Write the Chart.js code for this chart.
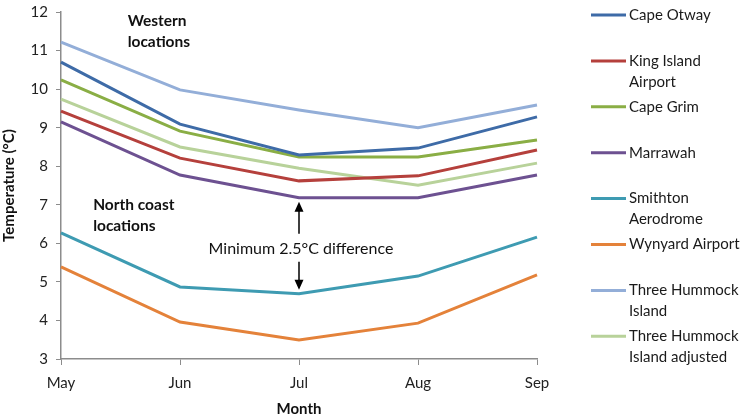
<!DOCTYPE html>
<html>
<head>
<meta charset="utf-8">
<script src="https://cdn.jsdelivr.net/npm/chart.js@4.4.1/dist/chart.umd.min.js"></script>
<style>
  html, body { margin: 0; padding: 0; background: #fff; }
  #wrap { width: 754px; height: 418px; position: relative; }
</style>
</head>
<body>
<div id="wrap"><canvas id="tempChart"></canvas></div>
<script>
// months on the x axis
const months = ['May', 'Jun', 'Jul', 'Aug', 'Sep'];

// series values (mean minimum temperature, °C)
const capeOtway      = [10.70, 9.09, 8.29, 8.47, 9.28];
const kingIsland     = [9.43, 8.21, 7.62, 7.75, 8.42];
const capeGrim       = [10.24, 8.91, 8.24, 8.24, 8.68];
const marrawah       = [9.15, 7.77, 7.18, 7.18, 7.77];
const smithton       = [6.27, 4.87, 4.69, 5.15, 6.16];
const wynyard        = [5.39, 3.96, 3.49, 3.93, 5.18];
const threeHummock   = [11.22, 9.98, 9.46, 9.00, 9.59];
const threeHummockAdj = [9.74, 8.50, 7.95, 7.51, 8.08];

const seriesNames = ['Cape Otway', 'King Island Airport', 'Cape Grim', 'Marrawah',
  'Smithton Aerodrome', 'Wynyard Airport', 'Three Hummock Island', 'Three Hummock Island adjusted'];
// how the legend breaks each name
const legendLines = [['Cape Otway'], ['King Island', 'Airport'], ['Cape Grim'], ['Marrawah'],
  ['Smithton', 'Aerodrome'], ['Wynyard Airport'], ['Three Hummock', 'Island'], ['Three Hummock', 'Island adjusted']];
const seriesColors = ['#3E6BA7', '#B5403C', '#8AAE45', '#6D5191', '#3E9BB2', '#E4823A', '#93AED8', '#B8D29A'];

// y axis tick range
const yMin = 3, yMax = 12, yStep = 1;

const FONT = 'Lato, "Open Sans", sans-serif';

const allSeries = [capeOtway, kingIsland, capeGrim, marrawah, smithton, wynyard, threeHummock, threeHummockAdj];
const datasets = allSeries.map((vals, i) => ({
  label: seriesNames[i],
  data: vals,
  borderColor: seriesColors[i],
  backgroundColor: seriesColors[i],
  borderWidth: 3,
  pointRadius: 0,
  tension: 0,
  fill: false
}));

// legend on the right, drawn by hand so names can wrap
const sideLegend = {
  id: 'sideLegend',
  afterDraw(chart) {
    const ctx = chart.ctx;
    ctx.save();
    ctx.font = '15px ' + FONT;
    ctx.textBaseline = 'middle';
    ctx.fillStyle = '#1a1a1a';
    chart.data.datasets.forEach((ds, i) => {
      const y = 15 + i * 45.9;
      ctx.strokeStyle = ds.borderColor;
      ctx.lineWidth = 3;
      ctx.beginPath();
      ctx.moveTo(591, y);
      ctx.lineTo(626, y);
      ctx.stroke();
      legendLines[i].forEach((t, j) => ctx.fillText(t, 629, y + j * 21));
    });
    ctx.restore();
  }
};

// text notes and the double arrow
const notes = {
  id: 'notes',
  afterDatasetsDraw(chart) {
    const ctx = chart.ctx;
    const x = chart.scales.x, y = chart.scales.y;
    ctx.save();
    ctx.fillStyle = '#111';
    ctx.textBaseline = 'middle';
    ctx.font = 'bold 15.5px ' + FONT;
    ctx.textAlign = 'left';
    ctx.fillText('Western', x.getPixelForValue(0.56), y.getPixelForValue(11.77));
    ctx.fillText('locations', x.getPixelForValue(0.56), y.getPixelForValue(11.22));
    ctx.fillText('North coast', x.getPixelForValue(0.27), y.getPixelForValue(7.0));
    ctx.fillText('locations', x.getPixelForValue(0.27), y.getPixelForValue(6.45));

    const ax = x.getPixelForValue(2);
    const top = y.getPixelForValue(marrawah[2]) + 4;
    const bot = y.getPixelForValue(smithton[2]) - 4;
    const mid = (top + bot) / 2;
    ctx.font = '16px ' + FONT;
    ctx.textAlign = 'center';
    ctx.fillText('Minimum 2.5°C difference', ax + 2, mid + 3);

    ctx.strokeStyle = '#000';
    ctx.lineWidth = 1.5;
    ctx.beginPath();
    ctx.moveTo(ax, top + 8); ctx.lineTo(ax, mid - 12);
    ctx.moveTo(ax, mid + 16); ctx.lineTo(ax, bot - 8);
    ctx.stroke();
    ctx.beginPath();
    ctx.moveTo(ax, top); ctx.lineTo(ax - 4.5, top + 10); ctx.lineTo(ax + 4.5, top + 10); ctx.closePath();
    ctx.moveTo(ax, bot); ctx.lineTo(ax - 4.5, bot - 10); ctx.lineTo(ax + 4.5, bot - 10); ctx.closePath();
    ctx.fillStyle = '#000';
    ctx.fill();
    ctx.restore();
  }
};

const axisGrey = '#8c8c8c';

new Chart(document.getElementById('tempChart'), {
  type: 'line',
  data: { labels: months, datasets: datasets },
  options: {
    responsive: true,
    maintainAspectRatio: false,
    animation: false,
    layout: { padding: { top: 12, right: 217, left: 0, bottom: 0 } },
    plugins: {
      legend: { display: false },
      tooltip: { enabled: false }
    },
    scales: {
      x: {
        type: 'category',
        offset: false,
        grid: { display: true, drawOnChartArea: false, drawTicks: true, tickLength: 6, color: axisGrey },
        border: { color: axisGrey, width: 1.5 },
        ticks: { color: '#222', font: { family: FONT, size: 15 }, padding: 9, maxRotation: 0 },
        title: { display: true, text: 'Month', color: '#111', font: { family: FONT, size: 15, weight: 'bold' }, padding: { top: 0, bottom: 0 } },
        afterFit: s => { s.height = 59; }
      },
      y: {
        min: yMin,
        max: yMax,
        grid: { display: true, drawOnChartArea: false, drawTicks: true, tickLength: 5, color: axisGrey },
        border: { color: axisGrey, width: 1.5 },
        ticks: { stepSize: yStep, color: '#222', font: { family: FONT, size: 15 }, padding: 8 },
        title: { display: true, text: 'Temperature (°C)', color: '#111', font: { family: FONT, size: 15, weight: 'bold' }, padding: { top: 0, bottom: 2 } },
        afterFit: s => { s.width = 61; s.paddingTop = 0; s.paddingBottom = 0; }
      }
    }
  },
  plugins: [notes, sideLegend]
});
</script>
</body>
</html>
